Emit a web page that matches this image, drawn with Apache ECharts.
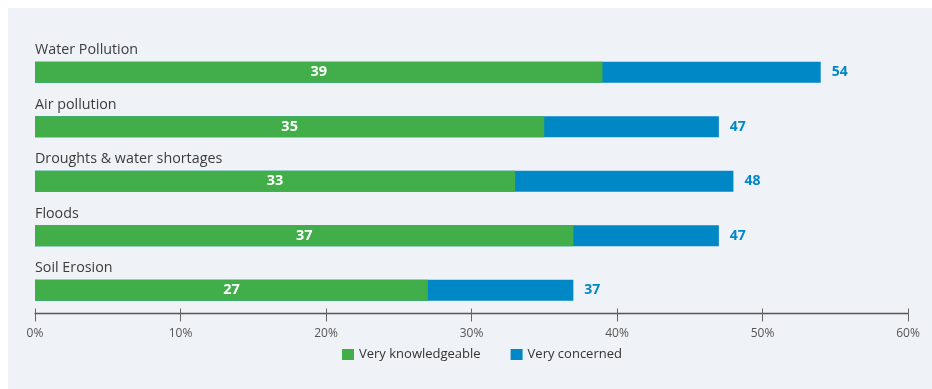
<!DOCTYPE html>
<html>
<head>
<meta charset="utf-8">
<script src="https://cdn.jsdelivr.net/npm/echarts@6/dist/echarts.min.js"></script>
<style>
  html, body { margin: 0; padding: 0; background: #ffffff; }
  #chart { position: absolute; left: 8px; top: 8px; width: 924px; height: 381px; }
</style>
</head>
<body>
<div id="chart"></div>
<script>
// Environmental issues: share of respondents per issue
const categories = ['Water Pollution', 'Air pollution', 'Droughts & water shortages', 'Floods', 'Soil Erosion'];
const knowledgeable = [39, 35, 33, 37, 27];
const concerned = [54, 47, 48, 47, 37];
const seriesNames = ['Very knowledgeable', 'Very concerned'];
const tickValues = [0, 10, 20, 30, 40, 50, 60];

const GREEN = '#41ae4a';
const BLUE = '#0087c5';
const FONT = '"Open Sans", sans-serif';

const chart = echarts.init(document.getElementById('chart'), null, { renderer: 'canvas' });

const baseX = {
  type: 'value',
  min: tickValues[0],
  max: tickValues[tickValues.length - 1],
  interval: 10,
  position: 'bottom',
  offset: -4,
  splitLine: { show: false }
};

chart.setOption({
  backgroundColor: '#eff2f7',
  animation: false,
  textStyle: { fontFamily: FONT },
  grid: { left: 27, right: 24, top: 37, bottom: 71.5 },
  legend: {
    data: seriesNames,
    left: 329,
    top: 335,
    itemWidth: 12,
    itemHeight: 11,
    itemGap: 30,
    icon: 'rect',
    textStyle: { fontFamily: FONT, fontSize: 13, color: '#333333' }
  },
  xAxis: [
    Object.assign({}, baseX, {
      axisLine: { show: true, lineStyle: { color: '#555555', width: 1.3 } },
      axisTick: { show: true, inside: false, length: 8, lineStyle: { color: '#666666', width: 1 } },
      axisLabel: {
        margin: 14,
        color: '#555555',
        fontFamily: FONT,
        fontSize: 12,
        formatter: v => v + '%'
      }
    }),
    Object.assign({}, baseX, {
      axisLine: { show: false },
      axisTick: { show: true, inside: true, length: 5, lineStyle: { color: '#666666', width: 1 } },
      axisLabel: { show: false }
    })
  ],
  yAxis: {
    type: 'category',
    data: categories,
    inverse: true,
    axisLine: { show: false },
    axisTick: { show: false },
    z: 10,
    axisLabel: {
      show: true,
      interval: 0,
      hideOverlap: false,
      inside: true,
      margin: 0,
      align: 'left',
      verticalAlign: 'bottom',
      padding: [0, 0, 15, 0],
      color: '#3c3c3c',
      fontFamily: FONT,
      fontSize: 14.3
    }
  },
  series: [
    {
      name: seriesNames[1],
      type: 'bar',
      xAxisIndex: 0,
      data: concerned,
      barWidth: 21,
      barGap: '-100%',
      itemStyle: { color: BLUE },
      label: {
        show: true,
        position: 'right',
        distance: 11,
        color: BLUE,
        fontFamily: FONT,
        fontWeight: 'bold',
        fontSize: 14
      }
    },
    {
      name: seriesNames[0],
      type: 'bar',
      xAxisIndex: 0,
      data: knowledgeable,
      barWidth: 21,
      barGap: '-100%',
      itemStyle: { color: GREEN },
      label: {
        show: true,
        position: 'inside',
        color: '#ffffff',
        fontFamily: FONT,
        fontWeight: 'bold',
        fontSize: 14.5
      }
    }
  ]
});
</script>
</body>
</html>
